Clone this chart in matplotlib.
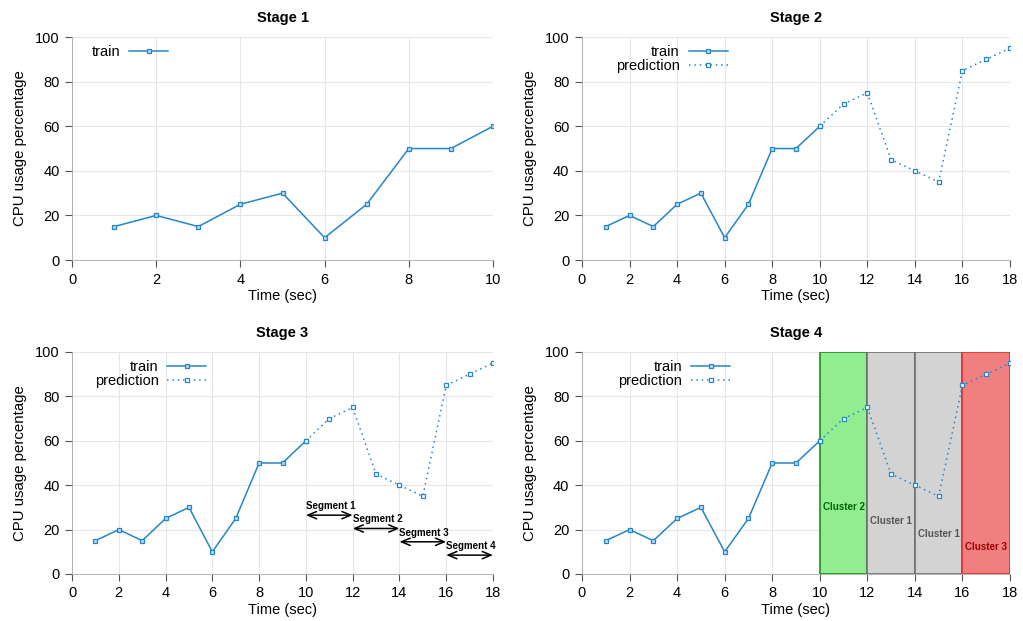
import numpy as np
import matplotlib.pyplot as plt

plt.rcParams['font.family'] = ['Liberation Sans', 'DejaVu Sans']
plt.rcParams['font.size'] = 10.5

# CPU usage per second
train_t = [1, 2, 3, 4, 5, 6, 7, 8, 9, 10]
train_cpu = [15, 20, 15, 25, 30, 10, 25, 50, 50, 60]
pred_t = [10, 11, 12, 13, 14, 15, 16, 17, 18]
pred_cpu = [60, 70, 75, 45, 40, 35, 85, 90, 95]

# segments of the prediction window
seg_names = ["Segment 1", "Segment 2", "Segment 3", "Segment 4"]
seg_start = [10, 12, 14, 16]
seg_end = [12, 14, 16, 18]
seg_y = [26.5, 20.5, 14.5, 8.5]

# cluster assigned to each segment
cl_names = ["Cluster 2", "Cluster 1", "Cluster 1", "Cluster 3"]
cl_y = [30, 24, 18, 12]
cl_face = ["#90ee90", "#d3d3d3", "#d3d3d3", "#f08080"]
cl_edge = ["#228b22", "#707070", "#707070", "#e03030"]
cl_text = ["#006400", "#555555", "#555555", "#a00000"]

LINE = "#2386c8"
MFC = "#b8dcf2"


def style_ax(ax, xmax, title):
    ax.set_xlim(0, xmax)
    ax.set_ylim(0, 100)
    ax.set_xticks(np.arange(0, xmax + 1, 2))
    ax.set_yticks(np.arange(0, 101, 20))
    ax.grid(True, color="#e6e6e6", linewidth=0.8)
    ax.set_axisbelow(True)
    for s in ["top", "right"]:
        ax.spines[s].set_visible(False)
    for s in ["left", "bottom"]:
        ax.spines[s].set_color("#aaaaaa")
        ax.spines[s].set_linestyle((0, (1, 1)))
        ax.spines[s].set_linewidth(0.6)
    ax.tick_params(direction="out", length=5, width=0.8, color="#555555", pad=4)
    ax.set_title(title, fontweight="bold", fontsize=10.5, pad=11)
    ax.set_xlabel("Time (sec)", labelpad=1.5)
    ax.set_ylabel("CPU usage percentage", fontsize=10.8, labelpad=6)


def draw_series(ax, pred=True):
    ax.plot(train_t, train_cpu, color=LINE, lw=1.1, marker="s", ms=3.5,
            mfc=MFC, mec=LINE, mew=0.9, label="train", zorder=3)
    if pred:
        ax.plot(pred_t, pred_cpu, color=LINE, lw=1.1, ls=(0, (1, 2.5)), marker="s", ms=3.5,
                mfc="white", mec=LINE, mew=0.9, label="prediction", zorder=3)


def add_legend(ax, xr):
    ax.legend(loc="upper right", bbox_to_anchor=(xr, 1.015), frameon=False,
              markerfirst=False, handlelength=2.67, handletextpad=0.62,
              labelspacing=0.0, borderpad=0.3, fontsize=10.5)


fig = plt.figure(figsize=(10.23, 6.21), dpi=100)
ax1 = fig.add_axes([0.0704, 0.5813, 0.4115, 0.359])
ax2 = fig.add_axes([0.5689, 0.5813, 0.4184, 0.359])
ax3 = fig.add_axes([0.0704, 0.0757, 0.4115, 0.3575])
ax4 = fig.add_axes([0.5689, 0.0757, 0.4184, 0.3575])

# Stage 1
style_ax(ax1, 10, "Stage 1")
draw_series(ax1, pred=False)
add_legend(ax1, 0.256)

# Stage 2
style_ax(ax2, 18, "Stage 2")
draw_series(ax2)
add_legend(ax2, 0.368)

# Stage 3 with segment arrows
style_ax(ax3, 18, "Stage 3")
draw_series(ax3)
add_legend(ax3, 0.347)
for name, a, b, y in zip(seg_names, seg_start, seg_end, seg_y):
    ax3.annotate("", xy=(a, y), xytext=(b, y),
                 arrowprops=dict(arrowstyle="<->,head_length=0.6,head_width=0.25",
                                 color="black", lw=1.1, shrinkA=0, shrinkB=0))
    ax3.text(a, y + 1.8, name, fontsize=7, fontweight="bold", ha="left", va="bottom")

# Stage 4 with clusters
style_ax(ax4, 18, "Stage 4")
for name, a, b, y, fc, ec, tc in zip(cl_names, seg_start, seg_end, cl_y, cl_face, cl_edge, cl_text):
    ax4.axvspan(a, b, ymin=0, ymax=1, facecolor=fc, edgecolor=ec, lw=1.2, zorder=1)
    ax4.text((a + b) / 2, y, name, fontsize=7, fontweight="bold", color=tc,
             ha="center", va="center", zorder=2)
draw_series(ax4)
add_legend(ax4, 0.373)

fig.savefig("out.png", dpi=100)
